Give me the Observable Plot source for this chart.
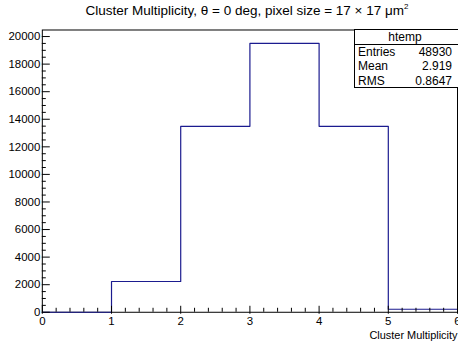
<!DOCTYPE html>
<html>
<head>
<meta charset="utf-8">
<script src="https://cdn.jsdelivr.net/npm/d3@7"></script>
<script src="https://cdn.jsdelivr.net/npm/@observablehq/plot@0.6"></script>
<style>
  html, body { margin: 0; padding: 0; background: #fff; overflow: hidden; }
  body { width: 458px; height: 345px; position: relative; font-family: "Liberation Sans", Arial, sans-serif; }
  #title { position: absolute; left: 0; top: 2px; width: 494px; text-align: center; font-size: 13.5px; color: #000; white-space: nowrap; }
  #title sup { font-size: 8px; }
  #chart { position: absolute; left: 0; top: 29px; }
  #stats { position: absolute; left: 354px; top: 29px; width: 110px; height: 59px; border: 1px solid #000; background: #fff; font-size: 12px; box-sizing: border-box; }
  #stats .hd { text-align: center; height: 14px; line-height: 14px; border-bottom: 1px solid #000; padding-right: 8px; }
  #stats .row { height: 14.3px; line-height: 14.3px; position: relative; }
  #stats .row .k { position: absolute; left: 3px; }
  #stats .row .v { position: absolute; right: 11px; }
</style>
</head>
<body>
<div id="title">Cluster Multiplicity, θ = 0 deg, pixel size = 17 × 17 μm<sup>2</sup></div>
<div id="chart"></div>
<div id="stats"></div>
<script>
// Data: histogram bin edges and contents (Cluster Multiplicity)
const binEdges = [0, 1, 2, 3, 4, 5, 6];
const binCounts = [0, 2230, 13490, 19500, 13490, 220];
const yTicks = [0, 2000, 4000, 6000, 8000, 10000, 12000, 14000, 16000, 18000, 20000];
const xTicks = [0, 1, 2, 3, 4, 5, 6];
const statsName = "htemp";
const statsLabels = ["Entries", "Mean", "RMS"];
const statsValues = ["48930", "2.919", "0.8647"];

const steps = binEdges.map((e, i) => ({x: e, y: binCounts[Math.min(i, binCounts.length - 1)]}));
const yMinor = d3.range(0, 20476, 500).filter(v => v % 2000 !== 0);
const xMinor = d3.range(0, 6.001, 0.2).map(v => +v.toFixed(1)).filter(v => Math.abs(v - Math.round(v)) > 1e-6);
const fmt = d3.format("d");

const chart = Plot.plot({
  width: 460,
  height: 316,
  marginLeft: 42,
  marginRight: 1,
  marginTop: 0.5,
  marginBottom: 32,
  style: {fontFamily: "'Liberation Sans', Arial, sans-serif", fontSize: "11.5px", color: "#000", background: "transparent"},
  x: {domain: [0, 6]},
  y: {domain: [0, 20475]},
  marks: [
    Plot.frame({stroke: "#000", strokeWidth: 1}),
    Plot.line(steps, {x: "x", y: "y", curve: "step-after", stroke: "#1b1b8f", strokeWidth: 1.2}),
    Plot.axisY(yTicks, {anchor: "left", tickSize: -8, tickPadding: 10, tickFormat: fmt, label: null, fontSize: 11.5}),
    Plot.axisY(yMinor, {anchor: "left", tickSize: -4, tickFormat: () => "", label: null}),
    Plot.axisX(xTicks, {anchor: "bottom", tickSize: -8, tickPadding: 11, tickFormat: fmt, label: null, fontSize: 11.5, dy: 2}),
    Plot.axisX(xMinor, {anchor: "bottom", tickSize: -4, tickFormat: () => "", label: null}),
    Plot.text(["Cluster Multiplicity"], {frameAnchor: "bottom-right", dy: 27, dx: 0, textAnchor: "end", fontSize: 11})
  ]
});
document.getElementById("chart").appendChild(chart);

const st = document.getElementById("stats");
const hd = document.createElement("div");
hd.className = "hd"; hd.textContent = statsName; st.appendChild(hd);
statsLabels.forEach((k, i) => {
  const r = document.createElement("div"); r.className = "row";
  r.innerHTML = `<span class="k">${k}</span><span class="v">${statsValues[i]}</span>`;
  st.appendChild(r);
});
</script>
</body>
</html>
